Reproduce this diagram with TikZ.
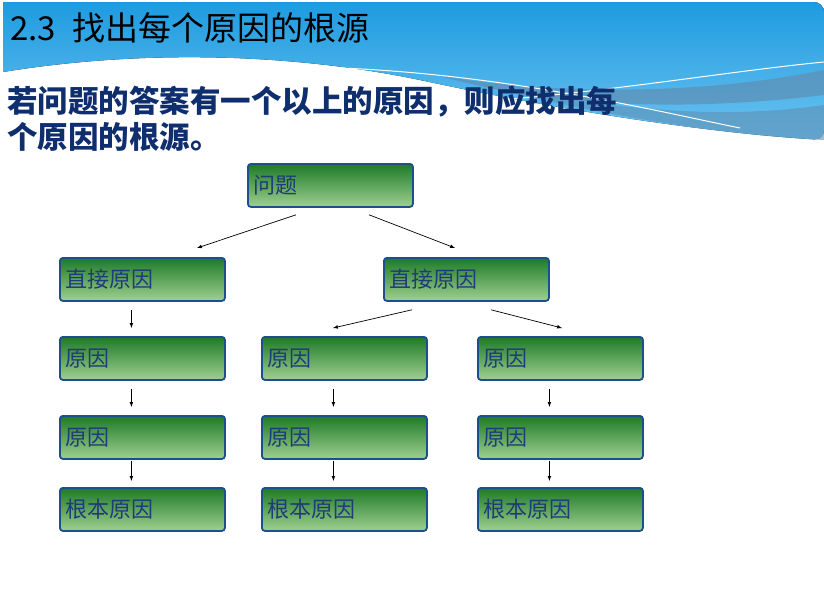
\documentclass[tikz,border=0pt]{standalone}
\usepackage{fontspec}
\newfontfamily\cjk{Noto Sans CJK SC}
\usetikzlibrary{calc}
\definecolor{hdr}{HTML}{1E9BE0}
\definecolor{hdrl}{HTML}{6CC3F0}
\definecolor{band}{HTML}{5E8FB5}
\definecolor{bord}{HTML}{1F4E8C}
\definecolor{gtop}{HTML}{1E7A28}
\definecolor{gbot}{HTML}{9FD08F}
\definecolor{txt}{HTML}{1F3B78}
\definecolor{body}{HTML}{0F2E6E}
\tikzset{
 box/.style={draw=bord,line width=1.8pt,rounded corners=3pt,top color=gtop,bottom color=gbot,
   minimum width=165pt,minimum height=43pt,text width=153pt,align=left,anchor=north west,
   font=\cjk\fontsize{22}{22}\selectfont,text=txt,inner sep=6pt},
 arr/.style={-latex,line width=0.7pt}
}
\begin{document}
\begin{tikzpicture}[x=1pt,y=-1pt]
\useasboundingbox (0,0) rectangle (824,605);
\fill[white] (0,0) rectangle (824,605);
% header
\fill[top color=hdr,bottom color=hdrl,rounded corners=10pt] (3,2) -- (824,2) -- (824,140) -- (824,140) [sharp corners]
  .. controls (700,132) and (560,110) .. (420,80) .. controls (300,55) and (150,48) .. (3,72) -- cycle;
\fill[band,opacity=0.7] (824,95) .. controls (700,110) and (560,110) .. (440,76) .. controls (560,95) and (700,95) .. (824,70) -- cycle;
\fill[band,opacity=0.6] (824,140) .. controls (720,135) and (600,115) .. (480,85) .. controls (620,110) and (720,120) .. (824,105) -- cycle;
\draw[white,line width=1pt] (250,68) .. controls (450,60) and (650,110) .. (740,128);
\draw[white,line width=1pt] (500,100) .. controls (620,90) and (740,70) .. (824,62);
\node[anchor=base west,inner sep=0] (title) at (10,40) {\cjk\fontsize{33}{33}\selectfont 2.3\hspace{0.5em}找出每个原因的根源};
\node[anchor=base west,inner sep=0,text=body] (l1) at (7,112) {\cjk\fontsize{30.5}{30}\selectfont\bfseries 若问题的答案有一个以上的原因，则应找出每};
\node[anchor=base west,inner sep=0,text=body] (l2) at (7,148) {\cjk\fontsize{30.5}{30}\selectfont\bfseries 个原因的根源。};
% boxes
\node[box] (q) at (247,163) {问题};
\node[box] (d1) at (59,257) {直接原因};
\node[box] (d2) at (383,257) {直接原因};
\node[box] (a1) at (59,336) {原因};
\node[box] (b1) at (261,336) {原因};
\node[box] (c1) at (477,336) {原因};
\node[box] (a2) at (59,415) {原因};
\node[box] (b2) at (261,415) {原因};
\node[box] (c2) at (477,415) {原因};
\node[box] (a3) at (59,487) {根本原因};
\node[box] (b3) at (261,487) {根本原因};
\node[box] (c3) at (477,487) {根本原因};
% arrows
\draw[arr] ($(q.south west)+(49,7)$) -- ($(d1.north west)+(138,-9)$);
\draw[arr] ($(q.south west)+(122,7)$) -- ($(d2.north west)+(72,-9)$);
\draw[arr] ($(d2.south west)+(29,8)$) -- ($(b1.north west)+(72,-8)$);
\draw[arr] ($(d2.south west)+(108,8)$) -- ($(c1.north west)+(85,-8)$);
\draw[arr] ($(d1.south)+(-11,8)$) -- ($(a1.north)+(-11,-8)$);
\foreach \u/\v in {a1/a2,b1/b2,c1/c2}{
 \draw[arr] ($(\u.south)+(-11,8)$) -- ($(\v.north)+(-11,-8)$);}
\foreach \u/\v in {a2/a3,b2/b3,c2/c3}{
 \draw[arr] ($(\u.south)+(-11,1)$) -- ($(\v.north)+(-11,-6)$);}
\end{tikzpicture}
\end{document}
